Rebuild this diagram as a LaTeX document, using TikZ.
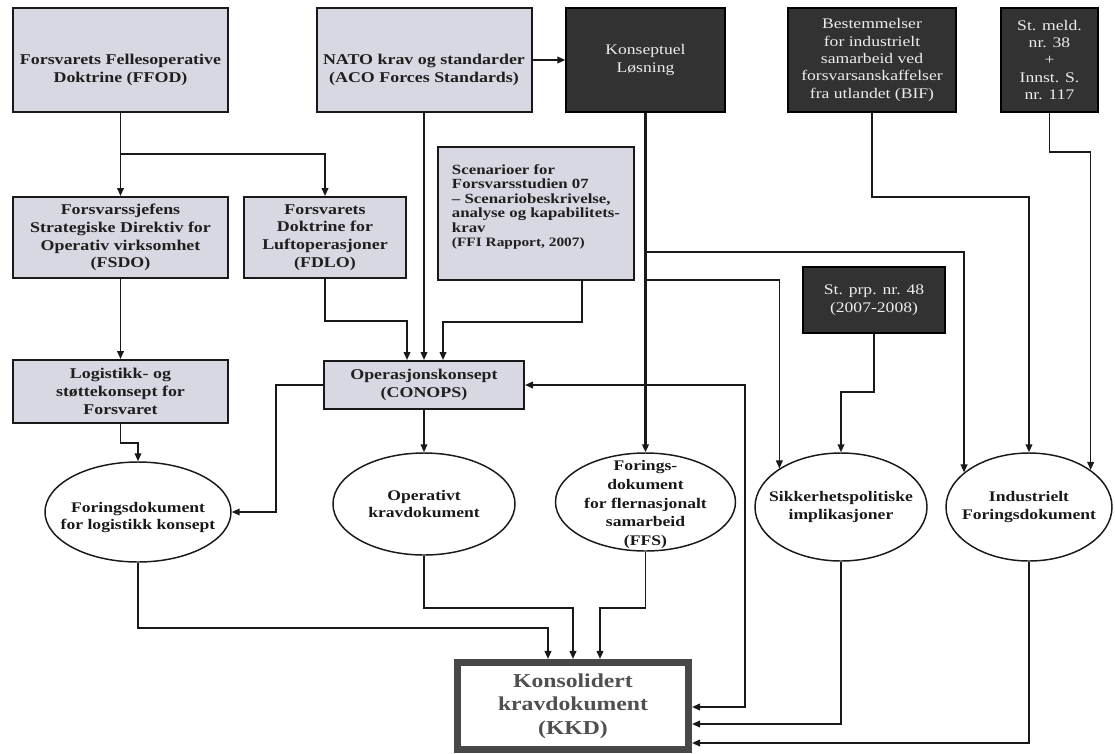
\documentclass[tikz,border=0pt]{standalone}
\usepackage{fontspec}
\setmainfont{Liberation Serif}[FakeStretch=1.2]
\usetikzlibrary{arrows.meta,shapes.geometric,calc}
\definecolor{boxfill}{RGB}{216,216,226}
\definecolor{darkfill}{RGB}{50,50,50}
\definecolor{lineclr}{RGB}{25,25,25}
\definecolor{darktext}{RGB}{236,236,236}
\definecolor{kkdclr}{RGB}{72,72,72}
\definecolor{kkdtext}{RGB}{80,80,80}
\newcommand{\bxfont}{\fontsize{11.2pt}{13.3pt}\selectfont\bfseries}
\newcommand{\dkfont}{\fontsize{11pt}{13.1pt}\selectfont}
\newcommand{\scnfont}{\fontsize{10.5pt}{10.8pt}\selectfont\bfseries}
\newcommand{\elfont}{\fontsize{11pt}{13pt}\selectfont\bfseries}
\newcommand{\ffsfont}{\fontsize{11pt}{14pt}\selectfont\bfseries}
\newcommand{\kkdfont}{\fontsize{14.8pt}{17.5pt}\selectfont\bfseries}
\tikzset{
  sz/.style 2 args={minimum width=#1*0.75pt, minimum height=#2*0.75pt},
  lbox/.style={draw=lineclr, line width=1.5pt, fill=boxfill, inner sep=2pt, align=center, font=\bxfont, text=black!88},
  btext/.style={align=center, font=\bxfont, text=black!88},
  sctext/.style={align=left, font=\scnfont, text=black!88},
  dbox/.style={draw=black, line width=1pt, fill=darkfill, inner sep=2pt, align=center, font=\dkfont, text=darktext},
  ell/.style={draw=lineclr, ellipse, line width=1.1pt, fill=white, inner sep=0pt},
  etext/.style={align=center, font=\elfont, text=black!90},
  arr/.style={draw=lineclr, line width=1.25pt, -{Triangle[length=6pt,width=5pt]}},
}
\begin{document}
\begin{tikzpicture}[x=0.75pt, y=-0.75pt]
\fill[white] (0,0) rectangle (1115,754);
\useasboundingbox (0,0) rectangle (1115,754);

% top row
\node[lbox, sz={215}{104}, label={[btext,yshift=-7.5pt]center:{Forsvarets Fellesoperative\\Doktrine (FFOD)}}] (ffod) at (120.5,60) {};
\node[lbox, sz={215}{104}, label={[btext,yshift=-7.5pt]center:{NATO krav og standarder\\(ACO Forces Standards)}}] (nato) at (424,60) {};
\node[dbox, sz={159}{104}] (kons) at (645.5,60) {Konseptuel\\Løsning};
\node[dbox, sz={168}{104}] (bif) at (872,60) {Bestemmelser\\for industrielt\\samarbeid ved\\forsvarsanskaffelser\\fra utlandet (BIF)};
\node[dbox, sz={97}{104}] (stmeld) at (1049.5,60) {St. meld.\\nr. 38\\+\\Innst. S.\\nr. 117};

% second row
\node[lbox, sz={196}{133}, label={[sctext,yshift=5pt]center:{Scenarioer for\\Forsvarsstudien 07\\– Scenariobeskrivelse,\\analyse og kapabilitets-\\krav\\{\fontsize{9.6pt}{10.8pt}\selectfont(FFI Rapport, 2007)}}}] (scen) at (536,213.5) {};
\node[lbox, sz={215}{81}] (fsdo) at (120.5,237.5) {Forsvarssjefens\\Strategiske Direktiv for\\Operativ virksomhet\\(FSDO)};
\node[lbox, sz={162}{81}] (fdlo) at (325,237.5) {Forsvarets\\Doktrine for\\Luftoperasjoner\\(FDLO)};
\node[dbox, sz={142}{66}] (stprp) at (874,300) {St. prp. nr. 48\\(2007-2008)};

% third row
\node[lbox, sz={215}{63}] (logi) at (120.5,391.5) {Logistikk- og\\støttekonsept for\\Forsvaret};
\node[lbox, sz={200}{48}] (conops) at (424,385) {Operasjonskonsept\\(CONOPS)};

% ellipses
\node[ell, sz={186}{100}, label={[etext,yshift=-4pt]center:{Foringsdokument\\for logistikk konsept}}] (elog) at (138,512) {};
\node[ell, sz={182}{102}, label={[etext]center:{Operativt\\kravdokument}}] (eop) at (424,504) {};
\node[ell, sz={180}{98}, label={[etext,font=\ffsfont,yshift=-2pt]center:{Forings-\\dokument\\for flernasjonalt\\samarbeid\\(FFS)}}] (effs) at (645.5,502) {};
\node[ell, sz={172}{108}, label={[etext]center:{Sikkerhetspolitiske\\implikasjoner}}] (esik) at (841,507) {};
\node[ell, sz={166}{108}, label={[etext]center:{Industrielt\\Foringsdokument}}] (eind) at (1029,507) {};

% result
\node[draw=kkdclr, line width=4.9pt, fill=white, sz={231.5}{87.5}, align=center, font=\kkdfont, text=kkdtext] (kkd) at (573,706) {Konsolidert\\kravdokument\\(KKD)};

% junctions
\coordinate (fj) at (120.5,154);
\coordinate (kb1) at (645.5,252);
\coordinate (kb2) at (645.5,280);
\coordinate (kb3) at (645.5,385);
\coordinate (kc) at (745,385);

% connectors
\draw[arr] (ffod.south) -- (fsdo.north);
\draw[arr] (fj) -| (fdlo.north);
\draw[arr] (fsdo.south) -- (logi.north);
\draw[arr] (fdlo.south) -- ++(0,42) -| ($(conops.north)+(-17,0)$);
\draw[arr] (nato.south) -- (conops.north);
\draw[arr] ($(scen.south)+(46,0)$) -- ++(0,41) -| ($(conops.north)+(19,0)$);
\draw[arr] (nato.east) -- (kons.west);
\draw[arr, line width=1.8pt] (kons.south) -- (effs.north);
\draw[arr] (kb1) -| (eind.152);
\draw[arr] (kb2) -| (esik.148);
\draw[arr] (kb3) -- (conops.east);
\draw[arr] (kb3) -- (kc) |- ($(kkd.east)+(0,1)$);
\draw[arr] (bif.south) -- ++(0,84) -| (eind.north);
\draw[arr] (stmeld.south) -- ++(0,39) -| (eind.31);
\draw[arr] (stprp.south) -- ++(0,58) -| (esik.north);
\draw[arr] (logi.south) -- ++(0,19) -| (elog.north);
\draw[arr] (conops.west) -- ++(-47,0) |- (elog.east);
\draw[arr] (conops.south) -- (eop.north);
\draw[arr] (elog.south) -- ++(0,65) -| ($(kkd.north)+(-25,0)$);
\draw[arr] (eop.south) -- ++(0,52) -| (kkd.north);
\draw[arr] (effs.south) -- ++(0,56) -| ($(kkd.north)+(27,0)$);
\draw[arr] (esik.south) |- ($(kkd.east)+(0,18)$);
\draw[arr] (eind.south) |- ($(kkd.east)+(0,37)$);
\end{tikzpicture}
\end{document}
